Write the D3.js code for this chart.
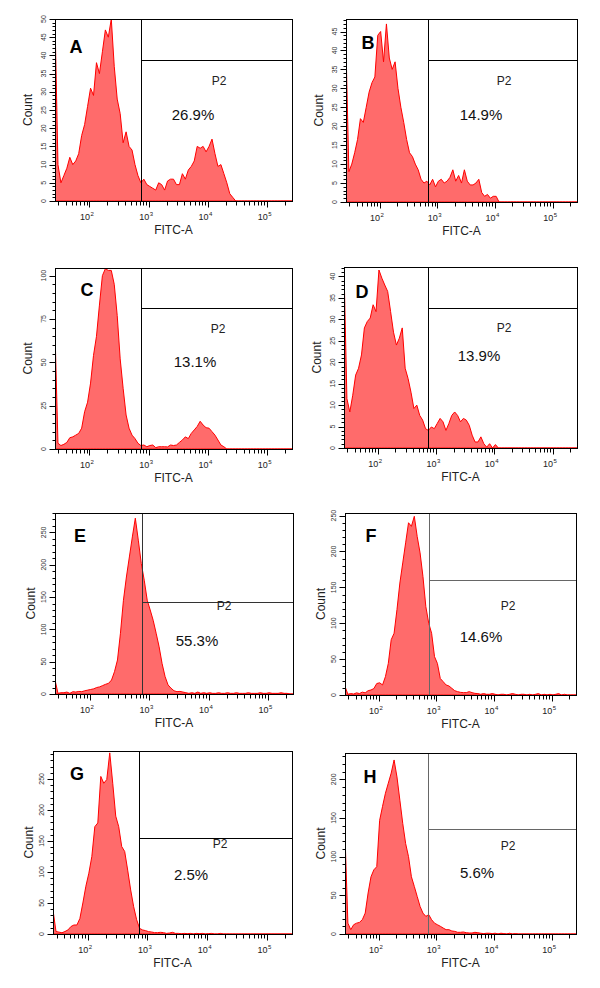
<!DOCTYPE html>
<html><head><meta charset="utf-8">
<script src="https://cdn.jsdelivr.net/npm/d3@7"></script>
<style>body{margin:0;background:#fff}svg{display:block}text{font-family:"Liberation Sans",Arial,sans-serif}</style>
</head><body>
<svg id="c" width="600" height="988"></svg>
<script>
// ---- data ----
const panelNames = ["A","B","C","D","E","F","G","H"];
const gatePct = ["26.9%","14.9%","13.1%","13.9%","55.3%","14.6%","2.5%","5.6%"];
const gateName = "P2";
const xTitle = "FITC-A";
const yTitle = "Count";
const xDomain = [26.2144, 262144];
const xTickExps = [2,3,4,5];
const yMax = [50, 48.3, 104.4, 42.2, 280, 253.6, 295, 234];
const yMajor = [5,5,25,5,50,50,50,50];
const yMinor = [1,1,5,1,10,10,10,10];
const gateX = [752, 700, 752, 724, 753, 740, 723, 730];
const gateY = [38.8, 37.4, 81.6, 32.7, 142, 159.6, 155, 135.5];
// histogram samples: log10 channel = binStart + binStep*i
const binStart = 1.4185, binStep = 0.05;
const countsA = [60,10,5,7,9,12,10,11,13,18, 21,26,31,29,38,35,41,47,45,50, 37,28,24,16,19,15,14,10,7,5,
  6,4.5,4,3.5,3,5,4.5,3,5.5,6, 6,4.5,4.5,7.5,6,8.5,9.5,11,15,14.5, 15,13.5,15,17,13,9.5,10,7.5,5,2,
  1,0,0,0,0,0,0,0,0,0, 0,0,0,0,0,0,0,0,0,0,0];
const countsB = [41,8,10,13,16.5,22,21,25,29,31.5, 33,44,45,37,47,38,35,37,30,25, 21,16.5,13,12,10,8.5,6,5,5.5,4.5,
  6,4,5.5,6,5,5.5,6.5,8.5,5.5,7, 5,8.5,5.5,4.5,4.5,5,6,2.5,1.5,2, 1,1.5,1.5,0,0,0,0,0,0,0,
  0,0,0,0,0,0,0,0,0,0, 0,0,0,0,0,0,0,0,0,0,0];
const countsC = [68,3.3,2,2.7,3.8,6.5,7,8,9,12, 21.5,27,38,54,65,83,100,104,103,103, 95,77,52,35,19.6,12,8,6,3.3,2,
  2.3,1.3,2,2.3,0.8,1.3,1.3,1.3,1.2,2.3, 2,2.3,3.8,5.2,7,6,9,11,13,16, 13.8,12.3,12,10,8,5.2,2.3,1.3,0,0,
  0,0,0,0,0,0,0,0,0,0, 0,0,0,0,0,0,0,0,0,0,0];
const countsD = [45,11.5,8.4,12.3,17,18.6,21.7,28,29.5,30.3, 33.4,31.8,41.5,39.6,38,36.5,31.8,27,24,25.6, 28,18.6,16.2,13,9.2,10,7.6,6.5,4.5,4.1,
  4.9,4.5,5.7,6.9,6.1,4.1,5.7,7.6,8.4,7.6, 6.1,6.9,6.5,5.3,3,1.4,1.4,2.6,1,0.2, 1,0,0.8,0,0,0,0,0,0,0,
  0,0,0,0,0,0,0,0,0,0, 0,0,0,0,0,0,0,0,0,0,0];
const countsE = [22,1,2,2,3,1,3.6,3,4,3.6, 5,6,7,8,10,11,13,15,16.5,21.6, 34.5,52.6,94,145,181,212,243,272,238,202,
  176,145,130,114,94,73,47,27,14,9, 5,3.6,4,3,2,1,2,1,3,1, 2,1,2,1,1,2,1,1,2,1,
  1,2,1,1,1,2,1,1,1,2, 1,1,2,1,1,1,2,1,1,0,0];
const countsF = [12,1,2,1.4,3,2,4,3,6,7, 9,16,17,14,25.6,44,77,86,119,156, 184,212,240,235,249,221,198,165,123,100,
  86,53.5,44,23,18.6,14,12.6,9.3,6,4.7, 3.7,3.3,3.3,4.7,3.3,2.3,2,1,2,1, 1,2,1,0,1,1,0,1,2,1,
  0,1,1,0,1,0,1,2,0,1, 0,1,0,1,2,0,1,0,0,0,0];
const countsG = [39,4,3,2,4,6.5,12,14.5,14.5,25, 50,77,98,125,173,179,254,243,249,292, 243,190,173,141,133,103,71,44,23,9,
  6.5,5.4,3.8,3.2,2.2,2.2,2.7,2.2,1,1.6, 2.7,1,1,0.5,1,0.5,1,0,1,0.5, 1,0,0.5,1,0,0,1,0,0,0,
  0,0,0,0,0,0,0,0,0,0, 0,0,0,0,0,0,0,0,0,0,0];
const countsH = [128,14,5.6,12,14,15,18.5,27,53,74, 83,87,147,165,182,195,208,225,203,173, 143,117,100,74,61.5,48.6,35.7,27,22.8,25,
  18.5,14,12,10,7.7,5.6,5.6,3.9,3.4,2.2, 2.2,2.6,1.7,1.3,1.3,2.2,1.7,1,0.5,1, 1,0.5,1,0,1,0.5,0,1,0,0.5,
  0,0,0,0,0,0,0,0,0,0, 0,0,0,0,0,0,0,0,0,0,0];
const counts = [countsA,countsB,countsC,countsD,countsE,countsF,countsG,countsH];

// ---- layout (pixels) ----
const layout = [
  {x0:55, y0:19, x1:292, y1:201, letter:[21,28], p2:[164,62], pct:[138,95], gateColor:"#000"},
  {x0:346, y0:19, x1:577, y1:202, letter:[22,24], p2:[158,62], pct:[135,95], gateColor:"#000"},
  {x0:55, y0:268, x1:292, y1:449, letter:[32,22], p2:[163,61], pct:[140,93], gateColor:"#000"},
  {x0:344, y0:267, x1:577, y1:448, letter:[18,25], p2:[160,61], pct:[135,88], gateColor:"#000"},
  {x0:55, y0:513, x1:293, y1:694, letter:[25,23], p2:[169,93], pct:[142,127], gateColor:"#333"},
  {x0:345, y0:513, x1:576, y1:695, letter:[26,23], p2:[163,93], pct:[136,123], gateColor:"#666"},
  {x0:53, y0:751, x1:292, y1:934, letter:[24,23], p2:[167,93], pct:[138,123], gateColor:"#000"},
  {x0:345, y0:753, x1:576, y1:934, letter:[25,24], p2:[163,93], pct:[132,119], gateColor:"#666"}
];

const svg = d3.select("#c");
const defs = svg.append("defs");

panelNames.forEach((name, k) => {
  const L = layout[k];
  const g = svg.append("g");
  const x = d3.scaleLog().domain(xDomain).range([L.x0, L.x1]);
  const y = d3.scaleLinear().domain([0, yMax[k]]).range([L.y1, L.y0]).clamp(true);
  const pts = counts[k].map((c, i) => ({v: Math.pow(10, binStart + binStep * i), c}));

  defs.append("clipPath").attr("id", "clip" + k)
    .append("rect").attr("x", L.x0).attr("y", L.y0).attr("width", L.x1 - L.x0).attr("height", L.y1 - L.y0);

  const area = d3.area().x(d => x(d.v)).y0(y(0)).y1(d => y(d.c)).curve(d3.curveLinear);
  g.append("path").datum(pts)
    .attr("clip-path", `url(#clip${k})`)
    .attr("d", area)
    .attr("fill", "#ff6b6b")
    .attr("stroke", "#ff0000")
    .attr("stroke-width", 1)
    .attr("stroke-linejoin", "round");

  // gate
  const gx = Math.round(x(gateX[k])) + 0.5;
  const gy = Math.round(y(gateY[k])) + 0.5;
  g.append("line").attr("x1", gx).attr("x2", gx).attr("y1", L.y0).attr("y2", L.y1)
    .attr("stroke", L.gateColor).attr("stroke-width", 1);
  g.append("line").attr("x1", gx).attr("x2", L.x1).attr("y1", gy).attr("y2", gy)
    .attr("stroke", L.gateColor).attr("stroke-width", 1);

  // box
  g.append("rect").attr("x", L.x0 + 0.5).attr("y", L.y0 + 0.5)
    .attr("width", L.x1 - L.x0).attr("height", L.y1 - L.y0)
    .attr("fill", "none").attr("stroke", "#000").attr("stroke-width", 1);

  // x ticks
  const by = L.y1 + 0.5;
  for (let e = 1; e <= 5; e++) {
    for (let m = 1; m <= 9; m++) {
      const v = m * Math.pow(10, e);
      if (v < xDomain[0] || v > xDomain[1]) continue;
      const tx = Math.round(x(v)) + 0.5;
      g.append("line").attr("x1", tx).attr("x2", tx).attr("y1", by).attr("y2", by + (m === 1 ? 6 : 4))
        .attr("stroke", "#000").attr("stroke-width", 1);
    }
  }
  xTickExps.forEach(e => {
    const tx = x(Math.pow(10, e));
    g.append("text").attr("x", tx + 0.5).attr("y", L.y1 + 19).attr("text-anchor", "end")
      .attr("font-size", 9).attr("fill", "#222").text("10");
    g.append("text").attr("x", tx + 1).attr("y", L.y1 + 15).attr("text-anchor", "start")
      .attr("font-size", 6).attr("fill", "#222").text(String(e));
  });
  g.append("text").attr("x", (L.x0 + L.x1) / 2).attr("y", L.y1 + 33).attr("text-anchor", "middle")
    .attr("font-size", 12).attr("fill", "#222").text(xTitle);

  // y ticks
  const lx = L.x0 + 0.5;
  const yt = d3.range(0, yMax[k] + 1e-6, yMinor[k]);
  yt.forEach(v => {
    const major = Math.abs(v / yMajor[k] - Math.round(v / yMajor[k])) < 1e-6;
    const ty = Math.round(y(v)) + 0.5;
    g.append("line").attr("x1", lx - (major ? 6 : 3)).attr("x2", lx).attr("y1", ty).attr("y2", ty)
      .attr("stroke", "#000").attr("stroke-width", 1);
    if (major) {
      g.append("text").attr("transform", `translate(${L.x0 - 9},${y(v)}) rotate(-90)`)
        .attr("text-anchor", "middle").attr("font-size", 7).attr("fill", "#333").text(String(v));
    }
  });
  const cdx = k >= 4 ? 24 : 27;
  g.append("text").attr("transform", `translate(${L.x0 - cdx},${(L.y0 + L.y1) / 2}) rotate(-90)`)
    .attr("text-anchor", "middle").attr("dominant-baseline", "central")
    .attr("font-size", 12).attr("fill", "#222").text(yTitle);

  // annotations
  g.append("text").attr("x", L.x0 + L.letter[0]).attr("y", L.y0 + L.letter[1])
    .attr("text-anchor", "middle").attr("dominant-baseline", "central")
    .attr("font-size", 18).attr("font-weight", "bold").attr("fill", "#000").text(name);
  g.append("text").attr("x", L.x0 + L.p2[0]).attr("y", L.y0 + L.p2[1])
    .attr("text-anchor", "middle").attr("dominant-baseline", "central")
    .attr("font-size", 12).attr("fill", "#222").text(gateName);
  g.append("text").attr("x", L.x0 + L.pct[0]).attr("y", L.y0 + L.pct[1])
    .attr("text-anchor", "middle").attr("dominant-baseline", "central")
    .attr("font-size", 15).attr("fill", "#111").text(gatePct[k]);
});
</script>
</body></html>
